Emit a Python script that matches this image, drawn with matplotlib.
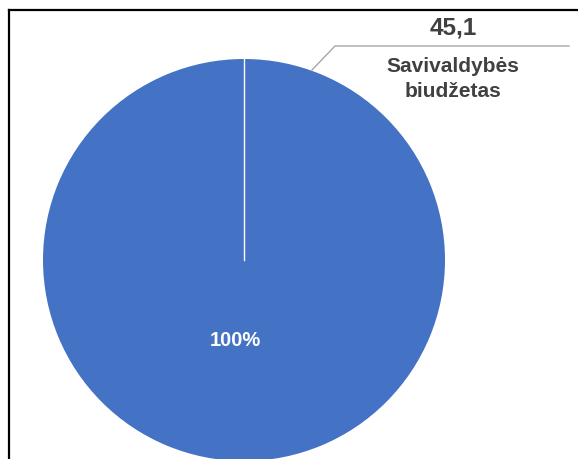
import matplotlib.pyplot as plt
from matplotlib.lines import Line2D

# Data
labels = ["Savivaldybės\nbiudžetas"]
values = [45.1]
value_labels = ["45,1"]
colors = ["#4472C4"]

W, H = 578, 459
fig = plt.figure(figsize=(W / 100, H / 100), dpi=100)
ax = fig.add_axes([0, 0, 1, 1])

# pie in pixel coordinates (y upwards)
cx, cy, r = 244, H - 260, 201
wedges, texts, autotexts = ax.pie(values, colors=colors, startangle=90, counterclock=False,
                                  radius=r, center=(cx, cy), autopct='%1.0f%%', pctdistance=0.4,
                                  textprops=dict(color='white', fontsize=14.5, fontweight='bold',
                                                 family='Liberation Sans'))
autotexts[0].set_position((cx - 9, H - 340))

# white slice boundary from centre to top
ax.plot([cx, cx], [cy, cy + r], color='white', lw=1)

# leader line
ax.plot([312, 335, 569], [H - 70, H - 46, H - 46], color='#a6a6a6', lw=1)

# labels
ax.text(453, H - 28, value_labels[0], ha='center', va='center', fontsize=17.5,
        fontweight='bold', color='#404040', family='Liberation Sans')
ax.text(453, H - 79, labels[0], ha='center', va='center', fontsize=15,
        fontweight='bold', color='#404040', family='Liberation Sans', linespacing=1.4)

ax.set_xlim(0, W)
ax.set_ylim(0, H)
ax.set_aspect('auto')
ax.axis('off')

# chart border (top and left visible)
fig.add_artist(Line2D([9 / W, 9 / W], [0, 1 - 10 / H], color='black', lw=1.6, transform=fig.transFigure))
fig.add_artist(Line2D([9 / W, 1], [1 - 10 / H, 1 - 10 / H], color='black', lw=1.6, transform=fig.transFigure))

plt.savefig('out.png', dpi=100)
